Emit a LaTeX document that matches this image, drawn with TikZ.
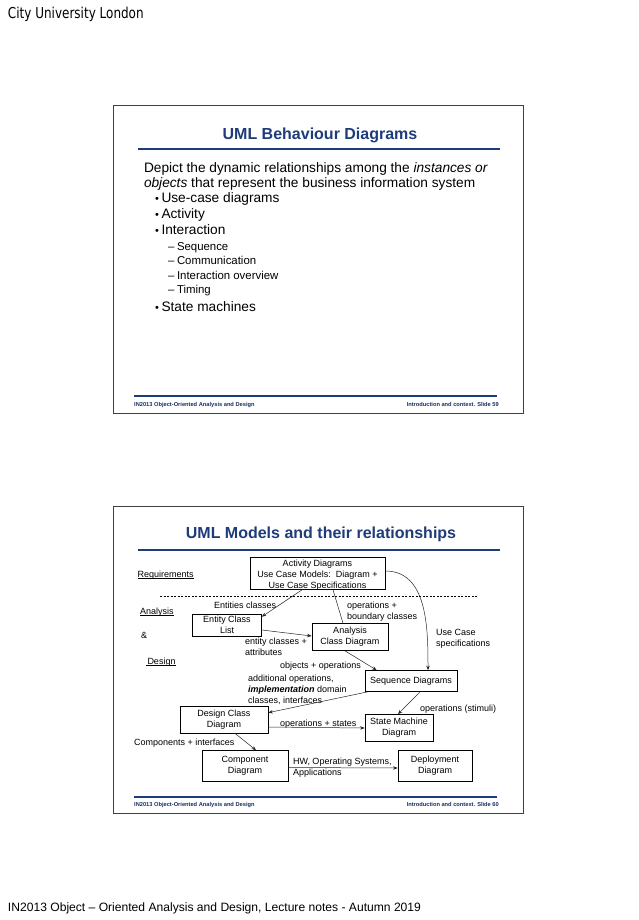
\documentclass[tikz,border=0pt]{standalone}
\usepackage{fontspec}
\setmainfont{Liberation Sans}
\newfontfamily\hdrfont{DejaVu Sans}
\usetikzlibrary{arrows.meta}
\definecolor{slideblue}{RGB}{30,60,122}
\tikzset{
  txt/.style={anchor=base west, inner sep=0pt, outer sep=0pt},
  bodyA/.style={txt, font=\fontsize{13.7}{15}\selectfont},
  bodyB/.style={txt, font=\fontsize{11.4}{13}\selectfont},
  bul/.style={txt, font=\fontsize{11}{13}\selectfont},
  ttl/.style={anchor=base, inner sep=0pt, text=slideblue, font=\fontsize{16}{18}\selectfont\bfseries},
  foot/.style={inner sep=0pt, text=slideblue!80!black, font=\fontsize{5.7}{6.5}\selectfont\bfseries},
  slide/.style={draw=black!75, line width=1pt, fill=white},
  bar/.style={draw=slideblue, line width=2pt},
  ubox/.style={draw=black, line width=0.7pt, align=center, inner sep=0pt, font=\fontsize{9}{10.7}\selectfont},
  btext/.style={align=center, inner sep=0pt, font=\fontsize{9}{10.7}\selectfont},
  lbl/.style={txt, align=left, font=\fontsize{9}{11}\selectfont},
  arr/.style={draw=black!85, line width=0.5pt, -{Stealth[length=4.5pt,width=3.5pt]}},
  plain/.style={draw=black!85, line width=0.5pt},
}
\begin{document}
\begin{tikzpicture}[x=1pt,y=-1pt]
\path[use as bounding box, fill=white] (0,0) rectangle (638,920);

% page header and footer
\node[txt, font=\hdrfont\fontsize{15}{17}\selectfont] (hdr) at (8,18.5) {\scalebox{0.8}[1]{City University London}};
\node[txt, font=\fontsize{12.1}{13}\selectfont] (pgfoot) at (8,911.5) {IN2013 Object – Oriented Analysis and Design, Lecture notes - Autumn 2019};

% ---------------- slide 59 ----------------
\path[slide] (113.5,105.7) rectangle (523,413);
\node[ttl] (t1) at (320,140) {UML Behaviour Diagrams};
\draw[bar] (138,149) -- (500,149);
\node[bodyA] (d1) at (144,173) {Depict the dynamic relationships among the \textit{instances or}};
\node[bodyA] (d2) at (144,188) {\textit{objects} that represent the business information system};
\node[bul] (k1) at (155,202) {•};
\node[bodyA] (u1) at (161.5,202) {Use-case diagrams};
\node[bul] (k2) at (155,218) {•};
\node[bodyA] (u2) at (161.5,218) {Activity};
\node[bul] (k3) at (155,234) {•};
\node[bodyA] (u3) at (161.5,234) {Interaction};
\node[bodyB] (m1) at (168,250) {–};
\node[bodyB] (s1) at (177,250) {Sequence};
\node[bodyB] (m2) at (168,264.5) {–};
\node[bodyB] (s2) at (177,264.5) {Communication};
\node[bodyB] (m3) at (168,279) {–};
\node[bodyB] (s3) at (177,279) {Interaction overview};
\node[bodyB] (m4) at (168,293) {–};
\node[bodyB] (s4) at (177,293) {Timing};
\node[bul] (k4) at (155,311) {•};
\node[bodyA] (u4) at (161.5,311) {State machines};
\draw[bar] (134,396) -- (497,396);
\node[foot, anchor=base west] (f1l) at (134,406) {IN2013 Object-Oriented Analysis and Design};
\node[foot, anchor=base east] (f1r) at (499,406) {Introduction and context. Slide 59};

% ---------------- slide 60 ----------------
\path[slide] (113.5,506) rectangle (523,813);
\node[ttl] (t2) at (321,538) {UML Models and their relationships};
\draw[bar] (138,550) -- (500,550);

\node[lbl] (req) at (137.5,577) {Requirements};
\draw[line width=0.5pt] ([yshift=-1.5pt]req.base west) -- ([yshift=-1.5pt]req.base east);
\draw[dashed, line width=0.6pt, dash pattern=on 2pt off 1.5pt] (160,596) -- (477,596);
\node[lbl] (ana) at (140,614) {Analysis};
\draw[line width=0.5pt] ([yshift=-1.5pt]ana.base west) -- ([yshift=-1.5pt]ana.base east);
\node[lbl] (amp) at (141,638) {\&};
\node[lbl] (des) at (146,664) {\,Design};
\draw[line width=0.5pt] ([yshift=-1.5pt]des.base west) -- ([yshift=-1.5pt]des.base east);

\node[ubox, minimum width=135pt, minimum height=32pt] (act) at (317.5,573.5) {};
\node[btext] (actt) at (317.5,575) {Activity Diagrams\\Use Case Models:\ \ Diagram +\\Use Case Specifications};
\node[ubox, minimum width=69pt, minimum height=22pt] (ecl) at (227,625) {Entity Class\\List};
\node[ubox, minimum width=76pt, minimum height=27pt] (acd) at (350,637) {Analysis\\Class Diagram};
\node[ubox, minimum width=92pt, minimum height=21pt] (seq) at (411,681) {Sequence Diagrams};
\node[ubox, minimum width=88pt, minimum height=27pt] (dcd) at (224,719.5) {Design Class\\Diagram};
\node[ubox, minimum width=68pt, minimum height=27pt] (smd) at (399,728) {State Machine\\Diagram};
\node[ubox, minimum width=86pt, minimum height=31pt] (comp) at (245,766) {Component\\Diagram};
\node[ubox, minimum width=74pt, minimum height=31pt] (dep) at (435,766) {Deployment\\Diagram};

\node[lbl] (l1) at (214,608) {Entities classes};
\node[lbl] (l2) at (347,619) {operations +\\boundary classes};
\node[lbl] (l3) at (245,655) {entity classes +\\attributes};
\node[lbl] (l4) at (436,646) {Use Case\\specifications};
\node[lbl] (l5) at (280,668) {objects + operations};
\node[lbl] (l6) at (248,703) {additional operations,\\\textbf{\textit{implementation}} domain\\classes, interfaces};
\node[lbl] (l7) at (420,711) {operations (stimuli)};
\node[lbl] (l8) at (280,726) {operations + states};
\node[lbl] (l9) at (134,745) {Components + interfaces};
\node[lbl] (l10) at (293,775) {HW, Operating Systems,\\Applications};

\draw[arr] ([xshift=-15.5pt]act.south) -- ([yshift=-3pt]ecl.north east);
\draw[plain] ([xshift=15.5pt]act.south) -- ([xshift=-7pt]acd.north);
\draw[arr] ([yshift=-5pt]ecl.east) -- ([yshift=1pt]acd.west);
\draw[arr] ([yshift=2.5pt]act.east) to[out=0,in=90] ([xshift=17pt]seq.north);
\draw[arr] ([xshift=-5pt]acd.south) -- ([xshift=12pt]seq.north west);
\draw[arr] ([xshift=3pt]seq.south west) -- ([yshift=-7pt]dcd.north east);
\draw[arr] ([xshift=9pt]seq.south) -- ([xshift=-1pt]smd.north);
\draw[arr] ([yshift=-7.5pt]dcd.east) -- (smd.west);
\draw[arr] ([xshift=11pt]dcd.south) -- ([xshift=11pt]comp.north);
\draw[arr] ([yshift=-1.5pt]comp.east) -- ([yshift=-2pt]dep.west);

\draw[bar] (134,797) -- (497,797);
\node[foot, anchor=base west] (f2l) at (134,806) {IN2013 Object-Oriented Analysis and Design};
\node[foot, anchor=base east] (f2r) at (499,806) {Introduction and context. Slide 60};
\end{tikzpicture}
\end{document}
